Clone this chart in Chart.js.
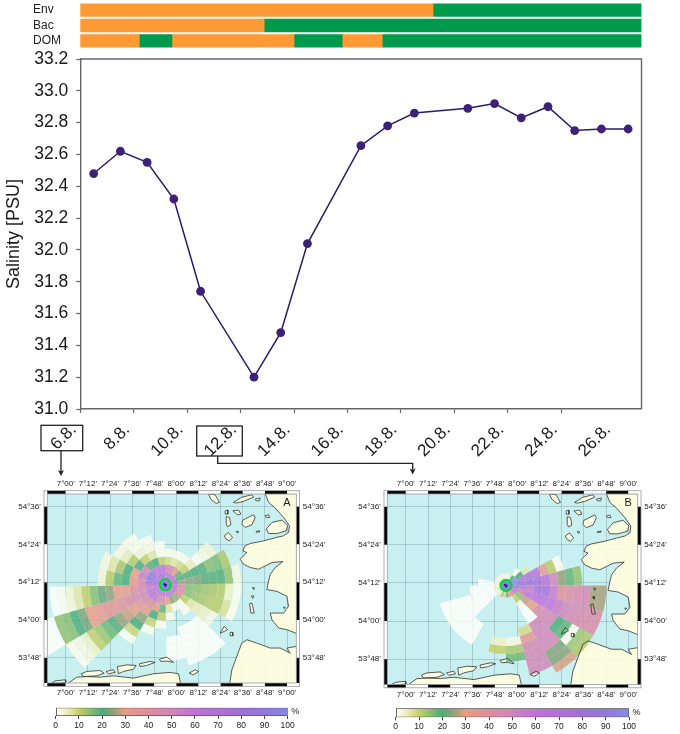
<!DOCTYPE html>
<html>
<head>
<meta charset="utf-8">
<title>Salinity</title>
<script src="https://cdn.jsdelivr.net/npm/chart.js@4/dist/chart.umd.min.js"></script>
<style>
  body { margin: 0; background: #fff; }
  #page { position: relative; width: 680px; height: 734px; overflow: hidden; }
  canvas { position: absolute; }
</style>
</head>
<body>
<div id="page">
  <canvas id="salinity" width="680" height="480" style="left:0;top:0"></canvas>
  <canvas id="strips" width="680" height="72" style="left:0;top:-10px"></canvas>
  <canvas id="mapA" width="340" height="222" style="left:0;top:478px"></canvas>
  <canvas id="mapB" width="340" height="222" style="left:340px;top:478px"></canvas>
  <canvas id="barA" width="340" height="34" style="left:0;top:700px"></canvas>
  <canvas id="barB" width="340" height="34" style="left:340px;top:700px"></canvas>
</div>
<script>
'use strict';

// salinity series, null = no sample that day (the line runs across)
const dates = ['6.8.', '7.8.', '8.8.', '9.8.', '10.8.', '11.8.', '12.8.', '13.8.', '14.8.', '15.8.', '16.8.',
  '17.8.', '18.8.', '19.8.', '20.8.', '21.8.', '22.8.', '23.8.', '24.8.', '25.8.', '26.8.'];
const salinity = [32.48, 32.62, 32.55, 32.32, 31.74, null, 31.2, 31.48, 32.04, null, 32.655,
  32.78, 32.86, null, 32.89, 32.92, 32.83, 32.9, 32.75, 32.76, 32.76];
const salinityTicks = [31.0, 31.2, 31.4, 31.6, 31.8, 32.0, 32.2, 32.4, 32.6, 32.8, 33.0, 33.2];

// top strips: change points on the date axis (0 to 21), colours alternate from orange
const stripNames = ['Env', 'Bac', 'DOM'];
const envBreaks = [0, 13.2, 21];
const bacBreaks = [0, 6.88, 21];
const domBreaks = [0, 2.21, 3.43, 8.0, 9.8, 11.3, 21];

// map axes
const lonTicks = [7.0, 7.2, 7.4, 7.6, 7.8, 8.0, 8.2, 8.4, 8.6, 8.8, 9.0];
const lonLabels = ["7°00'", "7°12'", "7°24'", "7°36'", "7°48'", "8°00'", "8°12'", "8°24'", "8°36'", "8°48'", "9°00'"];
const latTicks = [54.6, 54.4, 54.2, 54.0, 53.8];
const latLabels = ["54°36'", "54°24'", "54°12'", "54°00'", "53°48'"];
const percentTicks = [0, 10, 20, 30, 40, 50, 60, 70, 80, 90, 100];

// percent per cell: one row per 15 degree sector going anticlockwise from east,
// one value per ring going outwards, null = no cell
const sectorsA = [
  [65, 26, 25, 24, 21, 19, 19, 14, 2],
  [60, 21, 21, 20, 19, 15, 16, 12],
  [60, 18, 10, 5, 1, 2, 3],
  [60, 30, 8, 1],
  [60, 45, 6, 1],
  [65, 50, 8, 1],
  [70, 60, 10, 1, 1],
  [75, 60, 20, 6, 2, 1],
  [70, 58, 22, 10, 3, 1, 1],
  [70, 85, 48, 20, 11, 5, 2],
  [70, 85, 55, 30, 20, 12, 6, 2],
  [70, 70, 45, 32, 20, 18, 11, 3],
  [60, 55, 47, 38, 31, 31, 25, 22, 15, 10, 6, 3, 1, 0],
  [60, 60, 50, 45, 42, 38, 35, 37, 32, 30, 23, 20, 15, 14, 0, 0, 0],
  [60, 60, 45, 35, 30, 28, 25, 21, 17, 13, 10, 4, 2, 1],
  [60, 55, 40, 32, 25, 20, 9, 1],
  [60, 45, 30, 20, 9, 1],
  [60, 40, 18, 10, 1],
  [60, 30, 6, 1, null, null, 0, 0, 0],
  [60, 25, 1, null, null, 0, 0, 0, 0, 0],
  [60, 15, 1, 1, null, 0, 0, 0, 0, 0],
  [60, 40, 10, 6, 5, 4, 2],
  [60, 40, 15, 13, 12, 11, 11, 7, 1],
  [60, 45, 15, 14, 13, 12, 11, 4, 1]
];
const sectorsB = [
  [100, 85, 80, 75, 65, 50, 25, 18, 14],
  [100, 70, 68, 65, 33, 11, 1],
  [100, 20, 6],
  [20, 1],
  [3], [2], [2], [2], [2], [2], [2],
  [3, 0, 0],
  [3, 0, 0, 0],
  [3, 0, 0, 0, 0, 0, 0, 0],
  [3, 0, 0, 0, 0, 0, 0, 0],
  [5, null, null, null, null, 0, 0, 0],
  [12],
  [8, null, null, null, null, null, 4, 10],
  [25, null, null, null, null, null, 2, 12, 17],
  [30, null, null, null, null, 8, 35, 47, 48, 48, 50],
  [40, 10, 1, 0, 0, 50, 50, 50, 48, 24, 24, 29],
  [60, 14, 28, 30, 42, 48, 48, 20, 18, 1, 13, 12],
  [60, 50, 60, 62, 62, 60, 55, 50, 47, 45, 44, 44],
  [80, 60, 55, 72, 78, 55, 38, 43, 46, 47, 26, 26]
];

// colour scale of the maps
const scaleValues = [0, 5, 10, 20, 25, 30, 40, 50, 60, 70, 80, 90, 100];
const scaleColors = [[255, 255, 250], [238, 236, 186], [198, 206, 104], [76, 172, 122], [150, 160, 120], [234, 156, 132],
  [224, 140, 156], [210, 132, 184], [194, 112, 216], [176, 112, 216], [160, 112, 216], [144, 120, 224], [136, 136, 232]];

// coast, as lon/lat outlines
const land = [
  [[8.802, 54.669], [8.833, 54.623], [8.893, 54.593], [8.968, 54.543], [9.022, 54.499], [9.013, 54.463], [8.968, 54.446],
    [8.902, 54.437], [8.787, 54.419], [8.667, 54.405], [8.621, 54.393], [8.6, 54.366], [8.637, 54.357], [8.606, 54.34],
    [8.576, 54.322], [8.606, 54.296], [8.667, 54.278], [8.742, 54.269], [8.863, 54.304], [8.962, 54.31], [8.893, 54.278],
    [8.848, 54.242], [8.833, 54.207], [8.817, 54.161], [8.908, 54.152], [8.998, 54.126], [9.013, 54.073], [8.968, 54.037],
    [8.848, 54.037], [8.863, 54.002], [8.923, 53.958], [8.998, 53.949], [9.089, 53.928], [9.089, 54.669]],
  [[9.089, 53.861], [8.998, 53.852], [9.028, 53.825], [8.938, 53.852], [8.848, 53.852], [8.727, 53.878], [8.637, 53.896],
    [8.591, 53.878], [8.546, 53.808], [8.501, 53.737], [8.48, 53.66], [9.089, 53.66]],
  [[7.009, 53.66], [7.099, 53.698], [7.19, 53.701], [7.31, 53.698], [7.431, 53.705], [7.612, 53.693], [7.793, 53.716],
    [7.943, 53.723], [8.019, 53.716], [8.04, 53.66]],
  [[6.873, 53.666], [6.904, 53.678], [6.994, 53.684], [7.0, 53.67], [6.934, 53.666]],
  [[7.139, 53.716], [7.19, 53.728], [7.31, 53.733], [7.347, 53.719], [7.28, 53.705], [7.16, 53.701]],
  [[7.365, 53.728], [7.431, 53.737], [7.446, 53.723], [7.386, 53.716]],
  [[7.467, 53.754], [7.552, 53.763], [7.636, 53.76], [7.612, 53.74], [7.521, 53.728], [7.476, 53.716]],
  [[7.666, 53.769], [7.763, 53.781], [7.808, 53.776], [7.732, 53.76], [7.672, 53.754]],
  [[7.847, 53.793], [7.913, 53.804], [7.974, 53.776], [7.913, 53.783], [7.859, 53.781]],
  [[8.115, 53.719], [8.169, 53.737], [8.2, 53.728], [8.154, 53.71]],
  [[8.29, 54.667], [8.35, 54.663], [8.389, 54.623], [8.359, 54.617], [8.311, 54.64]],
  [[8.516, 54.623], [8.591, 54.65], [8.682, 54.663], [8.697, 54.65], [8.606, 54.628], [8.54, 54.619]],
  [[8.712, 54.64], [8.757, 54.646], [8.751, 54.631], [8.721, 54.631]],
  [[8.441, 54.578], [8.465, 54.582], [8.465, 54.561], [8.447, 54.561]],
  [[8.45, 54.547], [8.48, 54.543], [8.492, 54.504], [8.462, 54.494], [8.45, 54.508]],
  [[8.51, 54.578], [8.561, 54.582], [8.582, 54.561], [8.552, 54.557]],
  [[8.6, 54.529], [8.697, 54.557], [8.712, 54.543], [8.682, 54.504], [8.621, 54.49], [8.591, 54.508]],
  [[8.802, 54.552], [8.833, 54.557], [8.842, 54.543], [8.811, 54.543]],
  [[8.811, 54.481], [8.863, 54.516], [8.953, 54.529], [9.004, 54.499], [8.992, 54.472], [8.908, 54.458], [8.833, 54.458]],
  [[8.54, 54.47], [8.564, 54.467], [8.552, 54.46]],
  [[8.721, 54.469], [8.751, 54.472], [8.751, 54.467], [8.721, 54.465]],
  [[8.432, 54.446], [8.471, 54.463], [8.507, 54.437], [8.48, 54.419], [8.45, 54.428]],
  [[8.688, 54.173], [8.706, 54.17], [8.697, 54.161]],
  [[8.676, 54.126], [8.697, 54.129], [8.691, 54.115]],
  [[8.661, 54.087], [8.682, 54.09], [8.703, 54.037], [8.673, 54.037]],
  [[8.968, 54.069], [8.983, 54.067], [8.974, 54.06]],
  [[8.395, 53.931], [8.432, 53.967], [8.462, 53.949], [8.432, 53.94]],
  [[8.486, 53.935], [8.507, 53.935], [8.51, 53.917], [8.492, 53.917]]
];
const helgoland = [[7.89, 54.19], [7.905, 54.186], [7.9, 54.181]];

const centerLon = 7.9;
const centerLat = 54.187;
const ringLon = 0.0723;
const ringLat = 0.0423;

Chart.defaults.font.family = '"Liberation Sans", Arial, sans-serif';
Chart.defaults.color = '#222';
Chart.defaults.animation = false;
Chart.defaults.responsive = false;
Chart.defaults.devicePixelRatio = 1;
Chart.defaults.plugins.legend.display = false;
Chart.defaults.plugins.tooltip.enabled = false;

function percentColor(value, alpha) {
  let i = 0;
  while (i < scaleValues.length - 2 && value > scaleValues[i + 1]) {
    i++;
  }
  const t = (value - scaleValues[i]) / (scaleValues[i + 1] - scaleValues[i]);
  const c = scaleColors[i].map((v, n) => Math.round(v + (scaleColors[i + 1][n] - v) * t));
  return 'rgba(' + c.join(',') + ',' + alpha + ')';
}

// outline of one cell in lon/lat
function cellOutline(sector, ring, angleOffset) {
  const points = [];
  const inner = ring + 0.5;
  const outer = ring + 1.5;
  for (let i = 0; i <= 3; i++) {
    const a = (15 * sector + angleOffset + 5 * i) * Math.PI / 180;
    points.push({ x: centerLon + outer * Math.cos(a) * ringLon, y: centerLat + outer * Math.sin(a) * ringLat });
  }
  for (let i = 3; i >= 0; i--) {
    const a = (15 * sector + angleOffset + 5 * i) * Math.PI / 180;
    points.push({ x: centerLon + inner * Math.cos(a) * ringLon, y: centerLat + inner * Math.sin(a) * ringLat });
  }
  return points;
}

function outlineDataset(outline, style) {
  return Object.assign({
    type: 'scatter',
    data: outline,
    showLine: true,
    pointRadius: 0,
    borderWidth: 0,
    tension: 0
  }, style);
}

function makeMap(canvasId, sectors, angleOffset, letter, right, bottom) {
  const datasets = [];
  land.forEach(shape => {
    const outline = shape.map(p => ({ x: p[0], y: p[1] }));
    datasets.push(outlineDataset(outline, { fill: 'shape', backgroundColor: 'rgba(255,253,222,0.92)', order: 5 }));
    datasets.push(outlineDataset(outline.concat([outline[0]]), { borderColor: '#333', borderWidth: 0.8, order: 1 }));
  });
  sectors.forEach((rings, s) => {
    rings.forEach((value, k) => {
      if (value !== null) {
        datasets.push(outlineDataset(cellOutline(s, k, angleOffset), {
          fill: 'shape',
          backgroundColor: percentColor(value, 0.83),
          order: 3
        }));
      }
    });
  });
  // station in the middle
  datasets.push({
    type: 'scatter',
    data: helgoland.map(p => ({ x: p[0], y: p[1] })),
    pointRadius: 1.1,
    pointBackgroundColor: '#1c2a50',
    pointBorderWidth: 0,
    order: 0
  });
  datasets.push({
    type: 'scatter',
    data: [{ x: centerLon, y: centerLat }],
    pointRadius: 5.6,
    pointBackgroundColor: 'rgb(136,136,232)',
    pointBorderColor: '#00dd22',
    pointBorderWidth: 2,
    order: 0.5
  });

  const frame = {
    id: 'frame',
    beforeDraw(chart) {
      const a = chart.chartArea;
      chart.ctx.fillStyle = '#c9f0f0';
      chart.ctx.fillRect(a.left, a.top, a.right - a.left, a.bottom - a.top);
    },
    afterDraw(chart) {
      const ctx = chart.ctx;
      const a = chart.chartArea;
      const w = 3.3;
      const xs = [a.left].concat(lonTicks.map(v => chart.scales.x.getPixelForValue(v)), [a.right]);
      const ys = [a.top].concat(latTicks.map(v => chart.scales.y.getPixelForValue(v)), [a.bottom]);
      for (let i = 0; i < xs.length - 1; i++) {
        ctx.fillStyle = i % 2 === 0 ? '#000' : '#fff';
        ctx.fillRect(xs[i], a.top - w, xs[i + 1] - xs[i], w);
        ctx.fillRect(xs[i], a.bottom, xs[i + 1] - xs[i], w);
      }
      for (let i = 0; i < ys.length - 1; i++) {
        ctx.fillStyle = i % 2 === 1 ? '#000' : '#fff';
        ctx.fillRect(a.left - w, ys[i], w, ys[i + 1] - ys[i]);
        ctx.fillRect(a.right, ys[i], w, ys[i + 1] - ys[i]);
      }
      ctx.strokeStyle = '#999';
      ctx.lineWidth = 0.8;
      ctx.strokeRect(a.left - w, a.top - w, a.right - a.left + 2 * w, a.bottom - a.top + 2 * w);
      ctx.strokeRect(a.left, a.top, a.right - a.left, a.bottom - a.top);
      ctx.fillStyle = '#222';
      ctx.font = '11px "Liberation Sans"';
      ctx.textAlign = 'center';
      ctx.textBaseline = 'middle';
      ctx.fillText(letter, a.right - 9.5, a.top + 9);
    }
  };

  function lonAxis(position, padding, height, grid) {
    return {
      type: 'linear',
      position: position,
      min: 6.8333,
      max: 9.0833,
      afterBuildTicks: s => { s.ticks = lonTicks.map(v => ({ value: v })); },
      afterFit: s => { s.height = height; },
      ticks: {
        autoSkip: false,
        maxRotation: 0,
        padding: padding,
        font: { size: 8 },
        callback: (v, i) => lonLabels[i]
      },
      border: { display: false },
      grid: { display: grid, color: 'rgba(95,125,135,0.33)', drawTicks: false }
    };
  }
  function latAxis(position, width, grid) {
    return {
      type: 'linear',
      position: position,
      min: 53.667,
      max: 54.667,
      afterBuildTicks: s => { s.ticks = latTicks.map(v => ({ value: v })); },
      afterFit: s => { s.width = width; },
      ticks: {
        autoSkip: false,
        padding: 6.5,
        font: { size: 8 },
        callback: (v, i) => latLabels[i]
      },
      border: { display: false },
      grid: { display: grid, color: 'rgba(95,125,135,0.33)', drawTicks: false }
    };
  }

  return new Chart(document.getElementById(canvasId), {
    type: 'scatter',
    data: { datasets: datasets },
    options: {
      layout: { padding: 0 },
      elements: { line: { borderColor: 'transparent' } },
      scales: {
        x: lonAxis('bottom', 5, 222 - bottom, true),
        xTop: lonAxis('top', 5, 16, false),
        y: latAxis('left', 47.3, true),
        yRight: latAxis('right', 340 - right, false)
      }
    },
    plugins: [frame]
  });
}

function makeColorBar(canvasId, left, right, top, bottom) {
  const percentSign = {
    id: 'percentSign',
    afterDraw(chart) {
      chart.ctx.fillStyle = '#222';
      chart.ctx.font = '9px "Liberation Sans"';
      chart.ctx.textBaseline = 'middle';
      chart.ctx.fillText('%', chart.chartArea.right + 3.5, (chart.chartArea.top + chart.chartArea.bottom) / 2);
    }
  };
  return new Chart(document.getElementById(canvasId), {
    type: 'bar',
    data: {
      labels: ['%'],
      datasets: [{
        data: [[percentTicks[0], percentTicks[percentTicks.length - 1]]],
        barPercentage: 1,
        categoryPercentage: 1,
        borderColor: '#555',
        borderWidth: 1,
        borderSkipped: false,
        backgroundColor: ctx => {
          const area = ctx.chart.chartArea;
          if (!area) {
            return '#fff';
          }
          const g = ctx.chart.ctx.createLinearGradient(area.left, 0, area.right, 0);
          scaleValues.forEach(v => g.addColorStop(v / 100, percentColor(v, 1)));
          return g;
        }
      }]
    },
    options: {
      indexAxis: 'y',
      layout: { padding: { left: left, right: 340 - right, top: top } },
      scales: {
        x: {
          type: 'linear',
          min: 0,
          max: 100,
          afterBuildTicks: s => { s.ticks = percentTicks.map(v => ({ value: v })); },
          afterFit: s => { s.height = 34 - bottom; },
          ticks: { maxRotation: 0, autoSkip: false, padding: 1.5, font: { size: 8.5 } },
          border: { display: false },
          grid: { drawOnChartArea: false, tickLength: 3, color: '#444' }
        },
        y: { display: false }
      }
    },
    plugins: [percentSign]
  });
}

// top strips
const stripSets = [];
[envBreaks, bacBreaks, domBreaks].forEach((breaks, row) => {
  for (let i = 0; i < breaks.length - 1; i++) {
    const rows = [null, null, null];
    rows[row] = [breaks[i], breaks[i + 1]];
    stripSets.push({ data: rows, backgroundColor: i % 2 === 0 ? '#ff9933' : '#009a4c' });
  }
});
new Chart(document.getElementById('strips'), {
  type: 'bar',
  data: { labels: stripNames, datasets: stripSets },
  options: {
    indexAxis: 'y',
    datasets: { bar: { grouped: false, barThickness: 12.6, borderWidth: 0 } },
    layout: { padding: { left: 33, right: 38.5, top: 12.5, bottom: 13.5 } },
    scales: {
      x: { type: 'linear', min: 0, max: 21, display: false },
      y: {
        afterFit: s => { s.width = 47.3; },
        ticks: { autoSkip: false, crossAlign: 'far', font: { size: 12 }, color: '#222', padding: 0 },
        border: { display: false },
        grid: { display: false, drawTicks: false }
      }
    }
  }
});

// boxes round two dates and the arrows down to the maps
const plotFrame = {
  id: 'plotFrame',
  afterDraw(chart) {
    const ctx = chart.ctx;
    const a = chart.chartArea;
    ctx.strokeStyle = '#666';
    ctx.lineWidth = 1.4;
    ctx.beginPath();
    ctx.moveTo(a.left, a.top);
    ctx.lineTo(a.right, a.top);
    ctx.lineTo(a.right, a.bottom);
    ctx.stroke();

    ctx.strokeStyle = '#222';
    ctx.fillStyle = '#222';
    ctx.lineWidth = 1.3;
    ctx.strokeRect(41, 425.3, 41.7, 25.4);
    ctx.strokeRect(196.7, 426, 45.6, 30);
    ctx.beginPath();
    ctx.moveTo(61, 450.7);
    ctx.lineTo(61, 472);
    ctx.moveTo(217.7, 456);
    ctx.lineTo(217.7, 463.3);
    ctx.lineTo(412.7, 463.3);
    ctx.lineTo(412.7, 471);
    ctx.stroke();
    [[61, 476], [412.7, 474.5]].forEach(tip => {
      ctx.beginPath();
      ctx.moveTo(tip[0], tip[1]);
      ctx.lineTo(tip[0] - 3, tip[1] - 6);
      ctx.lineTo(tip[0], tip[1] - 4.5);
      ctx.lineTo(tip[0] + 3, tip[1] - 6);
      ctx.closePath();
      ctx.fill();
    });
  }
};

new Chart(document.getElementById('salinity'), {
  type: 'line',
  data: {
    labels: dates,
    datasets: [{
      data: salinity,
      spanGaps: true,
      borderColor: '#2b1a6b',
      borderWidth: 1.5,
      tension: 0,
      pointRadius: 4.4,
      pointBackgroundColor: '#3d2178',
      pointBorderColor: '#3d2178',
      pointBorderWidth: 0
    }]
  },
  options: {
    layout: { padding: { top: 59, right: 38.5 } },
    scales: {
      x: {
        type: 'category',
        offset: true,
        afterFit: s => { s.height = 71; },
        ticks: {
          autoSkip: false,
          minRotation: 45,
          maxRotation: 45,
          labelOffset: -20,
          padding: 7,
          font: { size: 17 },
          color: '#1a1a1a',
          callback: function (v, i) { return i % 2 === 0 ? dates[i] : ''; }
        },
        border: { color: '#666', width: 1.4 },
        grid: {
          offset: true,
          drawOnChartArea: false,
          tickLength: 4,
          tickColor: ctx => (ctx.index % 2 === 0 && ctx.index < 20 ? '#666' : 'transparent'),
          tickWidth: 1.2
        }
      },
      y: {
        type: 'linear',
        min: 31.0,
        max: 33.2,
        afterBuildTicks: s => { s.ticks = salinityTicks.map(v => ({ value: v })); },
        afterFit: s => { s.width = 80.3; },
        title: {
          display: true,
          text: 'Salinity [PSU]',
          font: { size: 18 },
          color: '#1a1a1a',
          padding: { top: 3, bottom: 0 }
        },
        ticks: { padding: 8, font: { size: 17.5 }, color: '#1a1a1a', callback: v => v.toFixed(1) },
        border: { color: '#666', width: 1.4 },
        grid: { drawOnChartArea: false, tickLength: 4, tickColor: '#666', tickWidth: 1.2 }
      }
    }
  },
  plugins: [plotFrame]
});

makeMap('mapA', sectorsA, 1, 'A', 296.3, 205);
makeMap('mapB', sectorsB, 0, 'B', 297.7, 206.5);
makeColorBar('barA', 55.7, 287.7, 7.7, 16);
makeColorBar('barB', 55.7, 289, 8.3, 17.3);
</script>
</body>
</html>
